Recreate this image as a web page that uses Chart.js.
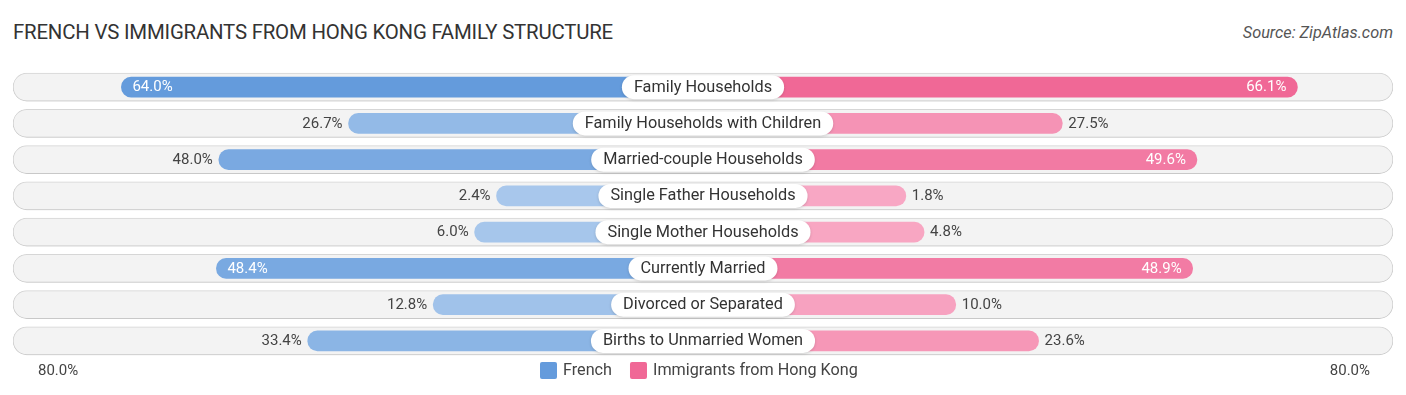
<!DOCTYPE html>
<html>
<head>
<meta charset="utf-8">
<script src="https://cdn.jsdelivr.net/npm/chart.js@4.4.0/dist/chart.umd.min.js"></script>
<style>
  body { margin: 0; background: #fff; font-family: Roboto, sans-serif; }
  #wrap { position: relative; width: 1406px; height: 395px; }
  #title { position: absolute; left: 13px; top: 20px; font-size: 20.4px; color: #333; letter-spacing: -0.2px; }
  #source { position: absolute; right: 13px; top: 23px; font-size: 16.3px; color: #555; font-style: italic; }
  canvas { position: absolute; left: 0; top: 0; }
</style>
</head>
<body>
<div id="wrap">
  <div id="title">FRENCH VS IMMIGRANTS FROM HONG KONG FAMILY STRUCTURE</div>
  <div id="source">Source: ZipAtlas.com</div>
  <canvas id="chart" width="1406" height="395"></canvas>
</div>
<script>
const categories = [
  "Family Households",
  "Family Households with Children",
  "Married-couple Households",
  "Single Father Households",
  "Single Mother Households",
  "Currently Married",
  "Divorced or Separated",
  "Births to Unmarried Women"
];
const frenchValues = [64.0, 26.7, 48.0, 2.4, 6.0, 48.4, 12.8, 33.4];
const hongKongValues = [66.1, 27.5, 49.6, 1.8, 4.8, 48.9, 10.0, 23.6];
const seriesNames = ["French", "Immigrants from Hong Kong"];
const axisEndLabel = "80.0%";

// bars start this far out from the middle so the label box fits
const OFFSET = 31.5;
const HALF = 113.3;

function mix(a, b, t) {
  return "rgb(" + a.map((c, i) => Math.round(c + (b[i] - c) * t)).join(",") + ")";
}
const blueLight = [169, 200, 236], blueDark = [100, 155, 220];
const pinkLight = [248, 168, 196], pinkDark = [240, 104, 150];
function shade(light, dark, v) {
  return mix(light, dark, Math.min(1, Math.pow(v / 64, 1.3)));
}
const isInside = v => v > 48.2;

const labelPlugin = {
  id: "labels",
  beforeDatasetDraw(chart, args) {
    if (args.index === 2) {
      chart.ctx.save();
      chart.ctx.shadowColor = "rgba(0,0,0,0.12)";
      chart.ctx.shadowBlur = 3;
      chart.ctx.shadowOffsetY = 1;
    }
  },
  afterDatasetDraw(chart, args) {
    if (args.index === 2) chart.ctx.restore();
  },
  afterDatasetsDraw(chart) {
    const ctx = chart.ctx;
    const xs = chart.scales.x, ys = chart.scales.y;
    const mid = xs.getPixelForValue(0);
    ctx.save();
    ctx.textBaseline = "middle";
    categories.forEach((cat, i) => {
      const y = ys.getPixelForValue(i);
      // value labels
      ctx.font = "15px Roboto";
      const fv = frenchValues[i], hv = hongKongValues[i];
      const fx = xs.getPixelForValue(-(OFFSET + fv));
      const hx = xs.getPixelForValue(OFFSET + hv);
      if (isInside(fv)) {
        ctx.fillStyle = "#fff"; ctx.textAlign = "left";
        ctx.fillText(fv.toFixed(1) + "%", fx + 11, y + 0.5);
      } else {
        ctx.fillStyle = "#444"; ctx.textAlign = "right";
        ctx.fillText(fv.toFixed(1) + "%", fx - 6, y + 0.5);
      }
      if (isInside(hv)) {
        ctx.fillStyle = "#fff"; ctx.textAlign = "right";
        ctx.fillText(hv.toFixed(1) + "%", hx - 11, y + 0.5);
      } else {
        ctx.fillStyle = "#444"; ctx.textAlign = "left";
        ctx.fillText(hv.toFixed(1) + "%", hx + 6, y + 0.5);
      }
      // category pill
      ctx.font = "16.3px Roboto";
      const w = ctx.measureText(cat).width + 24;
      const h = 24;
      ctx.save();
      ctx.shadowColor = "rgba(0,0,0,0.15)";
      ctx.shadowBlur = 3;
      ctx.shadowOffsetY = 1;
      ctx.fillStyle = "#fff";
      ctx.beginPath();
      ctx.roundRect(mid - w / 2, y - h / 2, w, h, h / 2);
      ctx.fill();
      ctx.restore();
      ctx.fillStyle = "#333";
      ctx.textAlign = "center";
      ctx.fillText(cat, mid, y + 0.5);
    });
    // bottom row: axis ends and legend
    const ly = 371;
    ctx.font = "15px Roboto";
    ctx.fillStyle = "#444";
    ctx.textAlign = "left";
    ctx.fillText(axisEndLabel, 38, ly);
    ctx.textAlign = "right";
    ctx.fillText(axisEndLabel, 1370, ly);
    ctx.font = "16.2px Roboto";
    const colors = [shade(blueLight, blueDark, 64), shade(pinkLight, pinkDark, 64)];
    let x = 540;
    seriesNames.forEach((name, k) => {
      ctx.fillStyle = colors[k];
      ctx.beginPath();
      ctx.roundRect(x, ly - 9, 17, 17, 2);
      ctx.fill();
      ctx.fillStyle = "#444";
      ctx.textAlign = "left";
      ctx.fillText(name, x + 23, ly);
      x += 23 + ctx.measureText(name).width + 18;
    });
    ctx.restore();
  }
};

new Chart(document.getElementById("chart"), {
  type: "bar",
  data: {
    labels: categories,
    datasets: [
      {
        label: seriesNames[0],
        data: frenchValues.map(v => [-(OFFSET + v), 0]),
        backgroundColor: frenchValues.map(v => shade(blueLight, blueDark, v)),
        borderRadius: 10,
        borderSkipped: false,
        barThickness: 20,
        grouped: false,
        order: 1
      },
      {
        label: seriesNames[1],
        data: hongKongValues.map(v => [0, OFFSET + v]),
        backgroundColor: hongKongValues.map(v => shade(pinkLight, pinkDark, v)),
        borderRadius: 10,
        borderSkipped: false,
        barThickness: 20,
        grouped: false,
        order: 1
      },
      {
        label: "track",
        data: categories.map(() => [-HALF, HALF]),
        backgroundColor: "#f3f3f3",
        borderColor: "#dadada",
        borderWidth: 1,
        borderRadius: 14,
        borderSkipped: false,
        barThickness: 28,
        grouped: false,
        order: 2
      }
    ]
  },
  options: {
    indexAxis: "y",
    responsive: false,
    animation: false,
    layout: { padding: { left: 13, right: 13, top: 69, bottom: 36 } },
    scales: {
      x: { display: false, min: -HALF, max: HALF },
      y: { display: false }
    },
    plugins: {
      legend: { display: false },
      tooltip: { enabled: false }
    }
  },
  plugins: [labelPlugin]
});
</script>
</body>
</html>
